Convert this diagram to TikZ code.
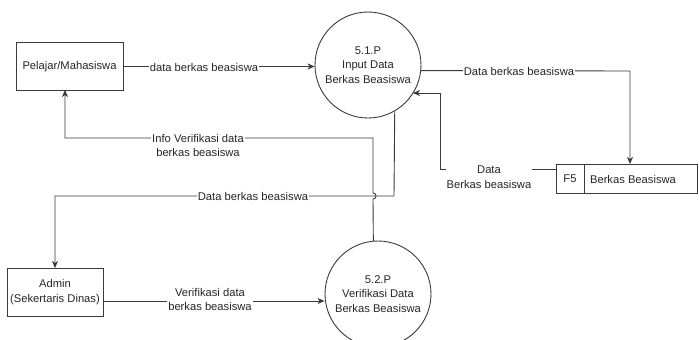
\documentclass[tikz,border=0pt]{standalone}
\usepackage{fontspec}
\setmainfont{Liberation Sans}
\usetikzlibrary{arrows.meta}
\definecolor{ink}{HTML}{262626}
\definecolor{wire}{HTML}{3A3A3A}
\begin{document}
\begin{tikzpicture}[x=1pt,y=-1pt,
  every node/.style={text=ink,font=\fontsize{11.2}{14.5}\selectfont,align=center,inner sep=1pt},
  entity/.style={draw=wire,line width=0.9pt,rectangle},
  proc/.style={draw=wire,line width=0.9pt,circle,minimum size=106pt,inner sep=0pt},
  flow/.style={draw=wire,line width=0.9pt,-{Stealth[length=7pt,width=6pt,inset=2pt]}},
  lbl/.style={fill=white,inner sep=1pt}]
\useasboundingbox (0,0) rectangle (699,340);
\clip (0,0) rectangle (699,340);

% external entities
\node[entity,minimum width=107pt,minimum height=48pt] (pel) at (69.5,66.5) {Pelajar/Mahasiswa};
\node[entity,minimum width=96pt,minimum height=48pt] (adm) at (55,292) {Admin\\(Sekertaris Dinas)};

% processes
\node[proc] (p51) at (368,65) {5.1.P\\Input Data\\Berkas Beasiswa};
\node[proc] (p52) at (378,294) {5.2.P\\Verifikasi Data\\Berkas Beasiswa};

% data store F5
\node[entity,minimum width=141pt,minimum height=29pt] (f5) at (626.5,178.5) {};
\draw[wire,line width=0.9pt] (584,164) -- (584,193);
\node (f5id) at (570,179) {F5};
\node (f5name) at (633,179) {Berkas Beasiswa};

% bend points of the connectors
\coordinate (pelIn) at (65,90);
\coordinate (admIn) at (55,268);
\coordinate (f5In) at (630,164);
\coordinate (f5Out) at (556,169);
\coordinate (p51In) at (413,93);

% Pelajar -> 5.1.P
\draw[flow] (pel.east) -- (p51.west |- pel.east);
\node[lbl] (l1) at (204,67) {data berkas beasiswa};

% 5.1.P -> F5
\draw[flow] (p51.-6.5) -- (630,71) -- (f5In);
\node[lbl] (l2) at (519,71) {Data berkas beasiswa};

% F5 -> 5.1.P
\draw[flow] (f5Out) -- (440,169) -- (440,93) -- (p51In);
\node[lbl] (l3) at (489,177) {Data\\Berkas beasiswa};

% 5.1.P -> Admin
\draw[flow] (p51.-60.5) -- (394,196) -- (55,196) -- (admIn);
\node[lbl] (l4) at (253,196) {Data berkas beasiswa};

% Admin -> 5.2.P
\draw[flow] (adm.east |- 0,301) -- (p52.west |- 0,301);
\node[lbl] (l5) at (210,299.5) {Verifikasi data\\berkas beasiswa};

% 5.2.P -> Pelajar, hopping over the Admin flow
\draw[flow] (p52.95.4) -- (373,199)
  .. controls (377,199) and (377,193) .. (373,193)
  -- (373,138) -- (65,138) -- (pelIn);
\node[lbl] (l6) at (198,145.5) {Info Verifikasi data\\berkas beasiswa};
\end{tikzpicture}
\end{document}
